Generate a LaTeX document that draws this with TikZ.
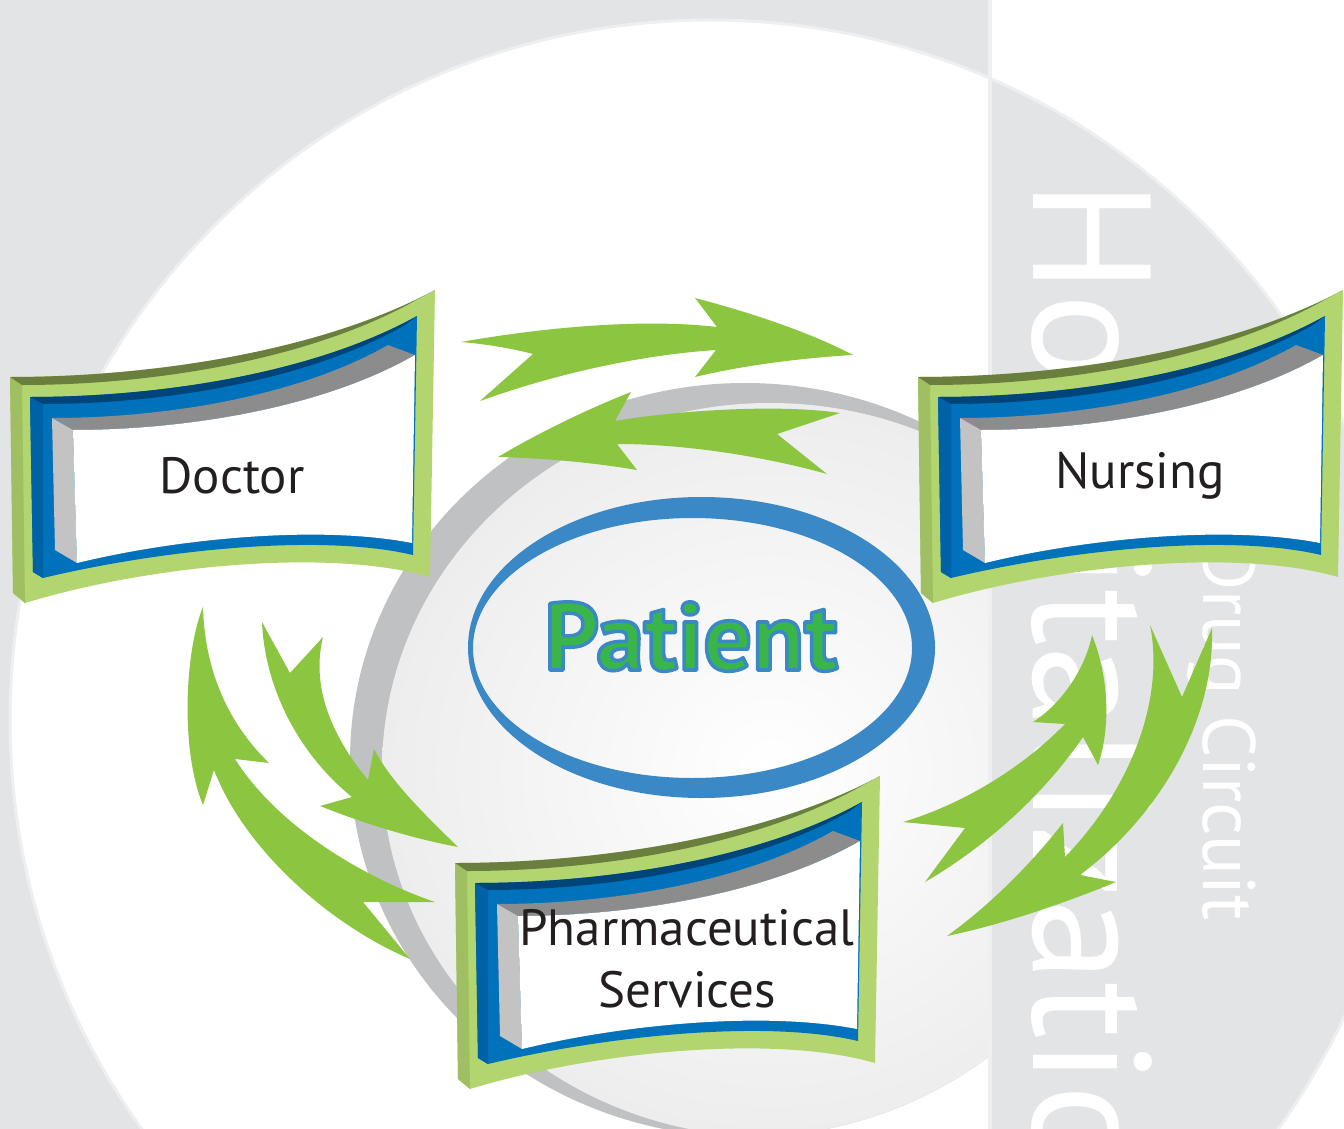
\documentclass[tikz,border=0pt]{standalone}
\usepackage{fontspec}
\setmainfont{PT Sans}
\definecolor{bggray}{HTML}{E3E4E6}
\definecolor{edgeline}{HTML}{EEEFF0}
\definecolor{sphererim}{HTML}{C0C1C3}
\definecolor{spheregray}{HTML}{EDEDEE}
\definecolor{arrowgreen}{HTML}{8CC540}
\definecolor{frgreen}{HTML}{B2D56F}
\definecolor{frgreenside}{HTML}{A0BF62}
\definecolor{frolive}{HTML}{6A7E3E}
\definecolor{frblue}{HTML}{0071BB}
\definecolor{frblueside}{HTML}{0062A6}
\definecolor{frnavy}{HTML}{00457A}
\definecolor{frgraydark}{HTML}{8C8C8C}
\definecolor{frgraylight}{HTML}{C3C3C3}
\definecolor{ringblue}{HTML}{3B88C6}
\definecolor{patgreen}{HTML}{3AB54A}
\definecolor{labelc}{HTML}{231F20}
\newcommand{\bannerframe}{%
 \fill[frgreen] (10,377) .. controls (150,377) and (320,352) .. (435,290) -- (430,577) .. controls (330,548) and (150,565) .. (25,603) -- (13,593) -- cycle;
 \fill[frgreenside] (10,377) -- (22,385) -- (25,603) -- (13,593) -- cycle;
 \fill[frolive] (10,377) .. controls (150,377) and (320,352) .. (435,290) -- (418,299) .. controls (311,360) and (153,385) .. (22,385) -- cycle;
 \fill[frblue] (30,397) .. controls (158,397) and (313,374) .. (417,316) -- (413,555) .. controls (320,533) and (160,550) .. (43,578) -- (33,572) -- cycle;
 \fill[frblueside] (30,397) -- (43,404) -- (43,578) -- (33,572) -- cycle;
 \fill[frnavy] (30,397) .. controls (158,397) and (313,374) .. (417,316) -- (405,325) .. controls (307,381) and (162,404) .. (43,404) -- cycle;
 \fill[frgraydark] (52,418) .. controls (163,418) and (297,397) .. (388,345) -- (415,355) .. controls (323,408) and (186,430) .. (73,430) -- cycle;
 \fill[frgraylight] (52,418) -- (73,430) -- (77,563) -- (55,550) -- cycle;
 \fill[white] (73,430) .. controls (186,430) and (323,408) .. (415,355) -- (412,543) .. controls (320,525) and (180,538) .. (77,563) -- cycle;
}
\begin{document}
\begin{tikzpicture}[x=1pt,y=-1pt,
  garrow/.style={fill=arrowgreen},
  lbl/.style={text=labelc, inner sep=0pt, font=\fontsize{51}{51}\selectfont},
  vtext/.style={rotate=-90, anchor=base west, inner sep=0pt, text=white}]
\useasboundingbox (0,0) rectangle (1344,1129);
\clip (0,0) rectangle (1344,1129);
% background
\fill[bggray] (0,0) rectangle (1344,1129);
\fill[white] (710,720) circle [radius=700];
% sphere
\fill[sphererim] (745,760) ellipse [x radius=395, y radius=377];
\begin{scope}
  \clip (745,760) ellipse [x radius=395, y radius=377];
  \shade[inner color=white, outer color=spheregray] (770,770) ellipse [x radius=388, y radius=367];
\end{scope}
% right stripe
\fill[white] (990,0) rectangle (1344,1129);
\begin{scope}
  \clip (710,720) circle [radius=700];
  \fill[bggray] (990,0) rectangle (1344,1129);
\end{scope}
\draw[edgeline, line width=3] (710,720) circle [radius=700];
\draw[edgeline, line width=4] (990,0) -- (990,1129);
% vertical texts
\node[vtext, font=\fontsize{168}{168}\selectfont] (hosp) at (1033,180) {Hospitalization};
\node[vtext, font=\fontsize{74}{74}\selectfont] (drug) at (1203,542) {Drug Circuit};
% patient ring
\fill[ringblue, even odd rule] (701.5,647.5) ellipse [x radius=233.5, y radius=150.5] (692.5,648) ellipse [x radius=219.5, y radius=130];
\node[anchor=base, inner sep=0pt, font=\bfseries\fontsize{96}{96}\selectfont] (patient) at (691,670) {\color{patgreen}\special{pdf:code 2 Tr 3.5 w 1 j 0.231 0.533 0.776 RG}Patient\special{pdf:code 0 Tr}};
% arrows
\fill[garrow] (461,342) .. controls (540,328) and (640,318) .. (717,327) -- (695,298) .. controls (760,315) and (815,335) .. (853,355) .. controls (800,358) and (740,366) .. (695,377) -- (716,350) .. controls (640,355) and (555,374) .. (480,401) -- (533,354) .. controls (510,348) and (485,344) .. (461,342) -- cycle;
\fill[garrow] (498,457) .. controls (540,432) and (590,408) .. (631,392) -- (615,421) .. controls (680,410) and (780,404) .. (840,413) -- (777,434) -- (827,474) .. controls (770,458) and (690,444) .. (617,444) -- (637,470) .. controls (590,462) and (540,458) .. (498,457) -- cycle;
\fill[garrow] (203,607) .. controls (185,650) and (180,750) .. (203,805) -- (214,770) .. controls (245,850) and (330,925) .. (410,959) -- (363,902) -- (435,902) .. controls (370,880) and (280,830) .. (235,759) -- (269,763) .. controls (235,730) and (205,680) .. (203,607) -- cycle;
\fill[garrow] (262,622) .. controls (265,690) and (300,755) .. (352,797) -- (320,806) .. controls (360,822) and (410,838) .. (458,847) .. controls (420,810) and (390,780) .. (374,749) -- (368,780) .. controls (335,740) and (310,690) .. (323,637) -- (290,673) -- cycle;
\fill[garrow] (903,822) .. controls (960,805) and (1020,770) .. (1065,724) -- (1033,722) .. controls (1060,705) and (1085,670) .. (1092,635) .. controls (1110,680) and (1110,730) .. (1098,765) -- (1083,737) .. controls (1040,800) and (980,850) .. (925,882) -- (965,828) -- cycle;
\fill[garrow] (1150,625) .. controls (1165,700) and (1130,790) .. (1065,857) -- (1063,823) .. controls (1030,865) and (990,905) .. (947,936) .. controls (1000,925) and (1060,905) .. (1116,882) -- (1080,875) .. controls (1160,815) and (1215,720) .. (1212,628) -- (1182,697) -- cycle;
% frames
\begin{scope}\bannerframe\end{scope}
\begin{scope}[shift={(908,0)}]\bannerframe\end{scope}
\begin{scope}[shift={(445,486)}]\bannerframe\end{scope}
\node[lbl, anchor=base] (doctor) at (232,493) {Doctor};
\node[lbl, anchor=base] (nursing) at (1140,488) {Nursing};
\node[lbl, anchor=base] (pharm1) at (687,945) {Pharmaceutical};
\node[lbl, anchor=base] (pharm2) at (687,1007) {Services};
\end{tikzpicture}
\end{document}
